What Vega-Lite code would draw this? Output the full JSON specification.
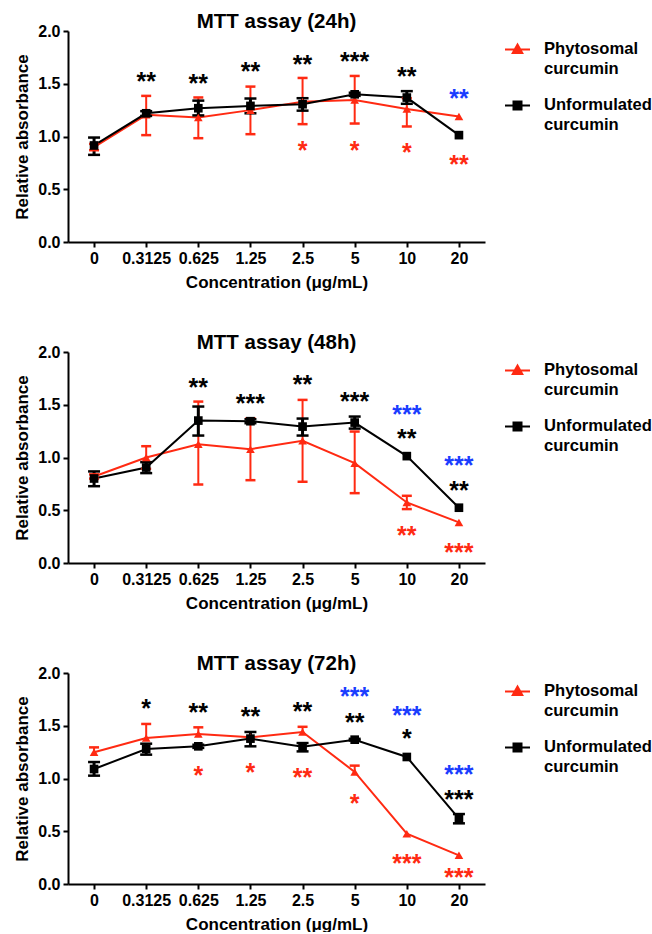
{
  "$schema": "https://vega.github.io/schema/vega-lite/v6.json",
  "padding": {"left": 13, "top": 11, "right": 0, "bottom": 0},
  "datasets": {
    "d24": [
      {"conc": "0", "series": "Phytosomal curcumin", "mean": 0.90, "lo": 0.87, "hi": 0.93},
      {"conc": "0.3125", "series": "Phytosomal curcumin", "mean": 1.205, "lo": 1.013, "hi": 1.385},
      {"conc": "0.625", "series": "Phytosomal curcumin", "mean": 1.18, "lo": 0.984, "hi": 1.37},
      {"conc": "1.25", "series": "Phytosomal curcumin", "mean": 1.25, "lo": 1.022, "hi": 1.473},
      {"conc": "2.5", "series": "Phytosomal curcumin", "mean": 1.33, "lo": 1.117, "hi": 1.555},
      {"conc": "5", "series": "Phytosomal curcumin", "mean": 1.345, "lo": 1.123, "hi": 1.574},
      {"conc": "10", "series": "Phytosomal curcumin", "mean": 1.26, "lo": 1.095, "hi": 1.363},
      {"conc": "20", "series": "Phytosomal curcumin", "mean": 1.19, "lo": 1.19, "hi": 1.19},
      {"conc": "0", "series": "Unformulated curcumin", "mean": 0.915, "lo": 0.826, "hi": 0.99},
      {"conc": "0.3125", "series": "Unformulated curcumin", "mean": 1.22, "lo": 1.195, "hi": 1.24},
      {"conc": "0.625", "series": "Unformulated curcumin", "mean": 1.268, "lo": 1.2, "hi": 1.34},
      {"conc": "1.25", "series": "Unformulated curcumin", "mean": 1.29, "lo": 1.22, "hi": 1.36},
      {"conc": "2.5", "series": "Unformulated curcumin", "mean": 1.306, "lo": 1.245, "hi": 1.363},
      {"conc": "5", "series": "Unformulated curcumin", "mean": 1.40, "lo": 1.385, "hi": 1.415},
      {"conc": "10", "series": "Unformulated curcumin", "mean": 1.369, "lo": 1.31, "hi": 1.43},
      {"conc": "20", "series": "Unformulated curcumin", "mean": 1.013, "lo": 1.013, "hi": 1.013}
    ],
    "s24": [
      {"conc": "0.3125", "stars": "**", "pos": 1.574, "grp": "Unformulated curcumin"},
      {"conc": "0.625", "stars": "**", "pos": 1.558, "grp": "Unformulated curcumin"},
      {"conc": "1.25", "stars": "**", "pos": 1.666, "grp": "Unformulated curcumin"},
      {"conc": "2.5", "stars": "**", "pos": 1.73, "grp": "Unformulated curcumin"},
      {"conc": "5", "stars": "***", "pos": 1.763, "grp": "Unformulated curcumin"},
      {"conc": "10", "stars": "**", "pos": 1.62, "grp": "Unformulated curcumin"},
      {"conc": "20", "stars": "**", "pos": 1.41, "grp": "Phytosomal vs unformulated"},
      {"conc": "2.5", "stars": "*", "pos": 0.915, "grp": "Phytosomal curcumin"},
      {"conc": "5", "stars": "*", "pos": 0.92, "grp": "Phytosomal curcumin"},
      {"conc": "10", "stars": "*", "pos": 0.896, "grp": "Phytosomal curcumin"},
      {"conc": "20", "stars": "**", "pos": 0.785, "grp": "Phytosomal curcumin"}
    ],
    "d48": [
      {"conc": "0", "series": "Phytosomal curcumin", "mean": 0.82, "lo": 0.80, "hi": 0.84},
      {"conc": "0.3125", "series": "Phytosomal curcumin", "mean": 1.0, "lo": 0.893, "hi": 1.107},
      {"conc": "0.625", "series": "Phytosomal curcumin", "mean": 1.126, "lo": 0.744, "hi": 1.53},
      {"conc": "1.25", "series": "Phytosomal curcumin", "mean": 1.079, "lo": 0.785, "hi": 1.372},
      {"conc": "2.5", "series": "Phytosomal curcumin", "mean": 1.158, "lo": 0.77, "hi": 1.546},
      {"conc": "5", "series": "Phytosomal curcumin", "mean": 0.946, "lo": 0.662, "hi": 1.246},
      {"conc": "10", "series": "Phytosomal curcumin", "mean": 0.574, "lo": 0.511, "hi": 0.637},
      {"conc": "20", "series": "Phytosomal curcumin", "mean": 0.385, "lo": 0.385, "hi": 0.385},
      {"conc": "0", "series": "Unformulated curcumin", "mean": 0.801, "lo": 0.728, "hi": 0.868},
      {"conc": "0.3125", "series": "Unformulated curcumin", "mean": 0.905, "lo": 0.852, "hi": 0.956},
      {"conc": "0.625", "series": "Unformulated curcumin", "mean": 1.35, "lo": 1.208, "hi": 1.483},
      {"conc": "1.25", "series": "Unformulated curcumin", "mean": 1.344, "lo": 1.325, "hi": 1.363},
      {"conc": "2.5", "series": "Unformulated curcumin", "mean": 1.293, "lo": 1.208, "hi": 1.369},
      {"conc": "5", "series": "Unformulated curcumin", "mean": 1.331, "lo": 1.274, "hi": 1.388},
      {"conc": "10", "series": "Unformulated curcumin", "mean": 1.013, "lo": 1.013, "hi": 1.013},
      {"conc": "20", "series": "Unformulated curcumin", "mean": 0.524, "lo": 0.524, "hi": 0.524}
    ],
    "s48": [
      {"conc": "0.625", "stars": "**", "pos": 1.72, "grp": "Unformulated curcumin"},
      {"conc": "1.25", "stars": "***", "pos": 1.56, "grp": "Unformulated curcumin"},
      {"conc": "2.5", "stars": "**", "pos": 1.74, "grp": "Unformulated curcumin"},
      {"conc": "5", "stars": "***", "pos": 1.587, "grp": "Unformulated curcumin"},
      {"conc": "10", "stars": "***", "pos": 1.457, "grp": "Phytosomal vs unformulated"},
      {"conc": "10", "stars": "**", "pos": 1.23, "grp": "Unformulated curcumin"},
      {"conc": "20", "stars": "***", "pos": 0.978, "grp": "Phytosomal vs unformulated"},
      {"conc": "20", "stars": "**", "pos": 0.741, "grp": "Unformulated curcumin"},
      {"conc": "10", "stars": "**", "pos": 0.315, "grp": "Phytosomal curcumin"},
      {"conc": "20", "stars": "***", "pos": 0.148, "grp": "Phytosomal curcumin"}
    ],
    "d72": [
      {"conc": "0", "series": "Phytosomal curcumin", "mean": 1.248, "lo": 1.248, "hi": 1.295},
      {"conc": "0.3125", "series": "Phytosomal curcumin", "mean": 1.384, "lo": 1.384, "hi": 1.517},
      {"conc": "0.625", "series": "Phytosomal curcumin", "mean": 1.422, "lo": 1.422, "hi": 1.485},
      {"conc": "1.25", "series": "Phytosomal curcumin", "mean": 1.39, "lo": 1.39, "hi": 1.39},
      {"conc": "2.5", "series": "Phytosomal curcumin", "mean": 1.441, "lo": 1.441, "hi": 1.49},
      {"conc": "5", "series": "Phytosomal curcumin", "mean": 1.062, "lo": 1.062, "hi": 1.122},
      {"conc": "10", "series": "Phytosomal curcumin", "mean": 0.477, "lo": 0.477, "hi": 0.477},
      {"conc": "20", "series": "Phytosomal curcumin", "mean": 0.272, "lo": 0.272, "hi": 0.272},
      {"conc": "0", "series": "Unformulated curcumin", "mean": 1.09, "lo": 1.027, "hi": 1.156},
      {"conc": "0.3125", "series": "Unformulated curcumin", "mean": 1.28, "lo": 1.226, "hi": 1.33},
      {"conc": "0.625", "series": "Unformulated curcumin", "mean": 1.305, "lo": 1.29, "hi": 1.32},
      {"conc": "1.25", "series": "Unformulated curcumin", "mean": 1.378, "lo": 1.305, "hi": 1.441},
      {"conc": "2.5", "series": "Unformulated curcumin", "mean": 1.302, "lo": 1.257, "hi": 1.336},
      {"conc": "5", "series": "Unformulated curcumin", "mean": 1.368, "lo": 1.36, "hi": 1.376},
      {"conc": "10", "series": "Unformulated curcumin", "mean": 1.204, "lo": 1.204, "hi": 1.204},
      {"conc": "20", "series": "Unformulated curcumin", "mean": 0.619, "lo": 0.575, "hi": 0.663}
    ],
    "s72": [
      {"conc": "0.3125", "stars": "*", "pos": 1.716, "grp": "Unformulated curcumin"},
      {"conc": "0.625", "stars": "**", "pos": 1.675, "grp": "Unformulated curcumin"},
      {"conc": "1.25", "stars": "**", "pos": 1.637, "grp": "Unformulated curcumin"},
      {"conc": "2.5", "stars": "**", "pos": 1.684, "grp": "Unformulated curcumin"},
      {"conc": "5", "stars": "***", "pos": 1.826, "grp": "Phytosomal vs unformulated"},
      {"conc": "5", "stars": "**", "pos": 1.583, "grp": "Unformulated curcumin"},
      {"conc": "10", "stars": "***", "pos": 1.653, "grp": "Phytosomal vs unformulated"},
      {"conc": "10", "stars": "*", "pos": 1.431, "grp": "Unformulated curcumin"},
      {"conc": "20", "stars": "***", "pos": 1.09, "grp": "Phytosomal vs unformulated"},
      {"conc": "20", "stars": "***", "pos": 0.853, "grp": "Unformulated curcumin"},
      {"conc": "0.625", "stars": "*", "pos": 1.084, "grp": "Phytosomal curcumin"},
      {"conc": "1.25", "stars": "*", "pos": 1.106, "grp": "Phytosomal curcumin"},
      {"conc": "2.5", "stars": "**", "pos": 1.062, "grp": "Phytosomal curcumin"},
      {"conc": "5", "stars": "*", "pos": 0.815, "grp": "Phytosomal curcumin"},
      {"conc": "10", "stars": "***", "pos": 0.246, "grp": "Phytosomal curcumin"},
      {"conc": "20", "stars": "***", "pos": 0.114, "grp": "Phytosomal curcumin"}
    ]
  },
  "vconcat": [
    {
      "title": {"text": "MTT assay (24h)"},
      "width": 417, "height": 211,
      "encoding": {
        "x": {"field": "conc", "type": "ordinal", "sort": ["0","0.3125","0.625","1.25","2.5","5","10","20"], "scale": {"type": "point", "padding": 0.5}, "axis": {"title": "Concentration (μg/mL)", "labelAngle": 0}}
      },
      "layer": [
        {"data": {"name": "d24"}, "mark": {"type": "line", "strokeWidth": 2},
         "encoding": {"y": {"field": "mean", "type": "quantitative", "scale": {"domain": [0, 2], "nice": false}, "axis": {"title": "Relative absorbance", "values": [0, 0.5, 1, 1.5, 2], "format": ".1f"}},
          "color": {"field": "series", "type": "nominal", "scale": {"domain": ["Phytosomal curcumin", "Unformulated curcumin", "Phytosomal vs unformulated"], "range": ["#ff2a12", "#000000", "#1a3dff"]},
           "legend": {"values": ["Phytosomal curcumin", "Unformulated curcumin"], "title": null, "labelExpr": "split(datum.label, ' ')", "encode": {"symbols": {"update": {"shape": {"signal": "datum.value === 'Phytosomal curcumin' ? 'M-1,0H1M0,-0.4L0.38,0.28L-0.38,0.28Z' : 'M-1,0H1M-0.32,-0.32H0.32V0.32H-0.32Z'"}, "fill": {"signal": "datum.value === 'Phytosomal curcumin' ? '#ff2a12' : '#000000'"}, "stroke": {"signal": "datum.value === 'Phytosomal curcumin' ? '#ff2a12' : '#000000'"}, "strokeWidth": {"value": 2}, "opacity": {"value": 1}}}, "labels": {"update": {"dy": {"value": -9}, "lineHeight": {"value": 20}}}}}}}},
        {"data": {"name": "d24"}, "transform": [{"filter": "datum.hi > datum.lo"}], "mark": {"type": "rule"},
         "encoding": {"y": {"field": "lo", "type": "quantitative"}, "y2": {"field": "hi"}, "color": {"field": "series", "type": "nominal", "legend": null}, "strokeWidth": {"field": "series", "type": "nominal", "scale": {"domain": ["Phytosomal curcumin", "Unformulated curcumin"], "range": [2, 3]}, "legend": null}}},
        {"data": {"name": "d24"}, "transform": [{"filter": "datum.hi > datum.mean"}], "mark": {"type": "tick", "thickness": 2.5, "opacity": 1},
         "encoding": {"y": {"field": "hi", "type": "quantitative"}, "color": {"field": "series", "type": "nominal", "legend": null}, "size": {"field": "series", "type": "nominal", "scale": {"domain": ["Phytosomal curcumin", "Unformulated curcumin"], "range": [10, 12]}, "legend": null}}},
        {"data": {"name": "d24"}, "transform": [{"filter": "datum.lo < datum.mean"}], "mark": {"type": "tick", "thickness": 2.5, "opacity": 1},
         "encoding": {"y": {"field": "lo", "type": "quantitative"}, "color": {"field": "series", "type": "nominal", "legend": null}, "size": {"field": "series", "type": "nominal", "scale": {"domain": ["Phytosomal curcumin", "Unformulated curcumin"], "range": [10, 12]}, "legend": null}}},
        {"data": {"name": "d24"}, "mark": {"type": "point", "filled": true, "opacity": 1, "size": 75},
         "encoding": {"y": {"field": "mean", "type": "quantitative"}, "color": {"field": "series", "type": "nominal", "legend": null}, "shape": {"field": "series", "type": "nominal", "scale": {"domain": ["Phytosomal curcumin", "Unformulated curcumin"], "range": ["triangle-up", "square"]}, "legend": null}}},
        {"data": {"name": "s24"}, "mark": {"type": "text", "fontSize": 25, "fontWeight": "bold", "baseline": "alphabetic", "dy": 14},
         "encoding": {"y": {"field": "pos", "type": "quantitative"}, "text": {"field": "stars"}, "color": {"field": "grp", "type": "nominal", "legend": null}}}
      ]
    },
    {
      "title": {"text": "MTT assay (48h)"},
      "width": 417, "height": 211,
      "encoding": {
        "x": {"field": "conc", "type": "ordinal", "sort": ["0","0.3125","0.625","1.25","2.5","5","10","20"], "scale": {"type": "point", "padding": 0.5}, "axis": {"title": "Concentration (μg/mL)", "labelAngle": 0}}
      },
      "layer": [
        {"data": {"name": "d48"}, "mark": {"type": "line", "strokeWidth": 2},
         "encoding": {"y": {"field": "mean", "type": "quantitative", "scale": {"domain": [0, 2], "nice": false}, "axis": {"title": "Relative absorbance", "values": [0, 0.5, 1, 1.5, 2], "format": ".1f"}},
          "color": {"field": "series", "type": "nominal", "scale": {"domain": ["Phytosomal curcumin", "Unformulated curcumin", "Phytosomal vs unformulated"], "range": ["#ff2a12", "#000000", "#1a3dff"]},
           "legend": {"values": ["Phytosomal curcumin", "Unformulated curcumin"], "title": null, "labelExpr": "split(datum.label, ' ')", "encode": {"symbols": {"update": {"shape": {"signal": "datum.value === 'Phytosomal curcumin' ? 'M-1,0H1M0,-0.4L0.38,0.28L-0.38,0.28Z' : 'M-1,0H1M-0.32,-0.32H0.32V0.32H-0.32Z'"}, "fill": {"signal": "datum.value === 'Phytosomal curcumin' ? '#ff2a12' : '#000000'"}, "stroke": {"signal": "datum.value === 'Phytosomal curcumin' ? '#ff2a12' : '#000000'"}, "strokeWidth": {"value": 2}, "opacity": {"value": 1}}}, "labels": {"update": {"dy": {"value": -9}, "lineHeight": {"value": 20}}}}}}}},
        {"data": {"name": "d48"}, "transform": [{"filter": "datum.hi > datum.lo"}], "mark": {"type": "rule"},
         "encoding": {"y": {"field": "lo", "type": "quantitative"}, "y2": {"field": "hi"}, "color": {"field": "series", "type": "nominal", "legend": null}, "strokeWidth": {"field": "series", "type": "nominal", "scale": {"domain": ["Phytosomal curcumin", "Unformulated curcumin"], "range": [2, 3]}, "legend": null}}},
        {"data": {"name": "d48"}, "transform": [{"filter": "datum.hi > datum.mean"}], "mark": {"type": "tick", "thickness": 2.5, "opacity": 1},
         "encoding": {"y": {"field": "hi", "type": "quantitative"}, "color": {"field": "series", "type": "nominal", "legend": null}, "size": {"field": "series", "type": "nominal", "scale": {"domain": ["Phytosomal curcumin", "Unformulated curcumin"], "range": [10, 12]}, "legend": null}}},
        {"data": {"name": "d48"}, "transform": [{"filter": "datum.lo < datum.mean"}], "mark": {"type": "tick", "thickness": 2.5, "opacity": 1},
         "encoding": {"y": {"field": "lo", "type": "quantitative"}, "color": {"field": "series", "type": "nominal", "legend": null}, "size": {"field": "series", "type": "nominal", "scale": {"domain": ["Phytosomal curcumin", "Unformulated curcumin"], "range": [10, 12]}, "legend": null}}},
        {"data": {"name": "d48"}, "mark": {"type": "point", "filled": true, "opacity": 1, "size": 75},
         "encoding": {"y": {"field": "mean", "type": "quantitative"}, "color": {"field": "series", "type": "nominal", "legend": null}, "shape": {"field": "series", "type": "nominal", "scale": {"domain": ["Phytosomal curcumin", "Unformulated curcumin"], "range": ["triangle-up", "square"]}, "legend": null}}},
        {"data": {"name": "s48"}, "mark": {"type": "text", "fontSize": 25, "fontWeight": "bold", "baseline": "alphabetic", "dy": 14},
         "encoding": {"y": {"field": "pos", "type": "quantitative"}, "text": {"field": "stars"}, "color": {"field": "grp", "type": "nominal", "legend": null}}}
      ]
    },
    {
      "title": {"text": "MTT assay (72h)"},
      "width": 417, "height": 211,
      "encoding": {
        "x": {"field": "conc", "type": "ordinal", "sort": ["0","0.3125","0.625","1.25","2.5","5","10","20"], "scale": {"type": "point", "padding": 0.5}, "axis": {"title": "Concentration (μg/mL)", "labelAngle": 0}}
      },
      "layer": [
        {"data": {"name": "d72"}, "mark": {"type": "line", "strokeWidth": 2},
         "encoding": {"y": {"field": "mean", "type": "quantitative", "scale": {"domain": [0, 2], "nice": false}, "axis": {"title": "Relative absorbance", "values": [0, 0.5, 1, 1.5, 2], "format": ".1f"}},
          "color": {"field": "series", "type": "nominal", "scale": {"domain": ["Phytosomal curcumin", "Unformulated curcumin", "Phytosomal vs unformulated"], "range": ["#ff2a12", "#000000", "#1a3dff"]},
           "legend": {"values": ["Phytosomal curcumin", "Unformulated curcumin"], "title": null, "labelExpr": "split(datum.label, ' ')", "encode": {"symbols": {"update": {"shape": {"signal": "datum.value === 'Phytosomal curcumin' ? 'M-1,0H1M0,-0.4L0.38,0.28L-0.38,0.28Z' : 'M-1,0H1M-0.32,-0.32H0.32V0.32H-0.32Z'"}, "fill": {"signal": "datum.value === 'Phytosomal curcumin' ? '#ff2a12' : '#000000'"}, "stroke": {"signal": "datum.value === 'Phytosomal curcumin' ? '#ff2a12' : '#000000'"}, "strokeWidth": {"value": 2}, "opacity": {"value": 1}}}, "labels": {"update": {"dy": {"value": -9}, "lineHeight": {"value": 20}}}}}}}},
        {"data": {"name": "d72"}, "transform": [{"filter": "datum.hi > datum.lo"}], "mark": {"type": "rule"},
         "encoding": {"y": {"field": "lo", "type": "quantitative"}, "y2": {"field": "hi"}, "color": {"field": "series", "type": "nominal", "legend": null}, "strokeWidth": {"field": "series", "type": "nominal", "scale": {"domain": ["Phytosomal curcumin", "Unformulated curcumin"], "range": [2, 3]}, "legend": null}}},
        {"data": {"name": "d72"}, "transform": [{"filter": "datum.hi > datum.mean"}], "mark": {"type": "tick", "thickness": 2.5, "opacity": 1},
         "encoding": {"y": {"field": "hi", "type": "quantitative"}, "color": {"field": "series", "type": "nominal", "legend": null}, "size": {"field": "series", "type": "nominal", "scale": {"domain": ["Phytosomal curcumin", "Unformulated curcumin"], "range": [10, 12]}, "legend": null}}},
        {"data": {"name": "d72"}, "transform": [{"filter": "datum.lo < datum.mean"}], "mark": {"type": "tick", "thickness": 2.5, "opacity": 1},
         "encoding": {"y": {"field": "lo", "type": "quantitative"}, "color": {"field": "series", "type": "nominal", "legend": null}, "size": {"field": "series", "type": "nominal", "scale": {"domain": ["Phytosomal curcumin", "Unformulated curcumin"], "range": [10, 12]}, "legend": null}}},
        {"data": {"name": "d72"}, "mark": {"type": "point", "filled": true, "opacity": 1, "size": 75},
         "encoding": {"y": {"field": "mean", "type": "quantitative"}, "color": {"field": "series", "type": "nominal", "legend": null}, "shape": {"field": "series", "type": "nominal", "scale": {"domain": ["Phytosomal curcumin", "Unformulated curcumin"], "range": ["triangle-up", "square"]}, "legend": null}}},
        {"data": {"name": "s72"}, "mark": {"type": "text", "fontSize": 25, "fontWeight": "bold", "baseline": "alphabetic", "dy": 14},
         "encoding": {"y": {"field": "pos", "type": "quantitative"}, "text": {"field": "stars"}, "color": {"field": "grp", "type": "nominal", "legend": null}}}
      ]
    }
  ],
  "spacing": 42,
  "resolve": {"scale": {"color": "independent", "shape": "independent", "size": "independent", "strokeWidth": "independent"}, "legend": {"color": "independent"}},
  "config": {
    "font": "Liberation Sans",
    "view": {"stroke": null},
    "title": {"fontSize": 20.5, "fontWeight": "bold", "color": "#000000", "anchor": "middle", "frame": "group", "offset": -9},
    "axis": {"grid": false, "domainColor": "#000000", "domainWidth": 2, "tickColor": "#000000", "tickWidth": 2, "tickSize": 5, "labelFontSize": 16, "labelFontWeight": "bold", "labelColor": "#000000", "labelPadding": 3, "titleFontSize": 17, "titleFontWeight": "bold", "titleColor": "#000000"},
    "axisY": {"titlePadding": 6},
    "axisX": {"titlePadding": 8},
    "legend": {"orient": "right", "offset": 14, "padding": 5, "labelFontSize": 16.6, "labelFontWeight": "bold", "labelColor": "#000000", "labelBaseline": "top", "labelLimit": 200, "symbolSize": 625, "labelOffset": 13, "rowPadding": 14}
  }
}
